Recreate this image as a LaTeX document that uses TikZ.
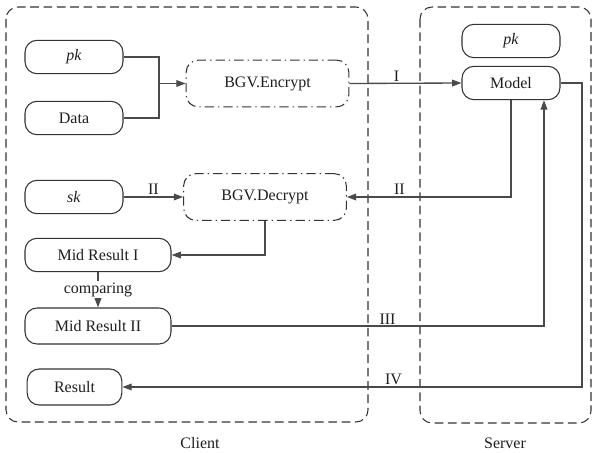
\documentclass[tikz,border=0pt]{standalone}
\usepackage{fontspec}
\setmainfont{Liberation Serif}
\newfontfamily\timesfont{Liberation Serif}
\usetikzlibrary{arrows.meta}
\definecolor{Wire}{HTML}{4A4A4A}
\definecolor{Edge}{HTML}{333333}
\definecolor{Ink}{HTML}{1E1E1E}

\begin{document}
\begin{tikzpicture}[x=0.75pt,y=-0.75pt,every node/.style={font=\timesfont\fontsize{12}{14}\selectfont,text=Ink},
  pill/.style={draw=Edge,line width=0.8pt,rounded corners=9pt,minimum height=25pt,minimum width=73.5pt,inner sep=0pt},
  cryptbox/.style={draw=Edge,line width=0.8pt,dash pattern=on 7pt off 3pt on 1pt off 3pt,rounded corners=9pt,minimum width=122pt,minimum height=35pt},
  zone/.style={draw=Edge,line width=0.8pt,dash pattern=on 6.5pt off 3.5pt,rounded corners=9pt},
  wire/.style={draw=Wire,line width=1pt,-{Triangle[length=7pt,width=5pt]}},
  lbl/.style={above,inner sep=1pt}]
\useasboundingbox (0,0) rectangle (593,453);
\draw[zone] (6,7) rectangle (368,422);
\draw[zone] (420,7) rectangle (591,423);
\node (client) at (200,443) {Client};
\node (server) at (505,443) {Server};
% client side
\node[pill] (pk) at (74,57) {\textit{pk}};
\node[pill] (data) at (74,118) {Data};
\node[pill] (sk) at (74,197) {\textit{sk}};
\node[pill,minimum width=109.5pt] (mr1) at (98,255) {Mid Result I};
\node[pill,minimum width=109.5pt,minimum height=27pt] (mr2) at (98,326) {Mid Result II};
\node[pill,minimum width=71pt,minimum height=27pt] (result) at (74.5,387) {Result};
\node[cryptbox] (enc) at (267.5,83.5) {BGV.Encrypt};
\node[cryptbox] (dec) at (265,197) {BGV.Decrypt};
% server side
\node[pill] (spk) at (511,41) {\textit{pk}};
\node[pill] (model) at (511,83) {Model};
\coordinate (join) at (159,83.5);
\coordinate (turn) at (582,387);
% connectors
\draw[Wire,line width=1pt] (pk.east) -| (join) |- (data.east);
\draw[wire] (join) -- (enc);
\draw[wire] (sk) -- node[lbl] {II} (dec);
\draw[wire] (enc.east) -- node[lbl,pos=0.42] {I} (model.west);
\draw[wire] (model.south) |- node[lbl,pos=0.84] {II} (dec.east);
\draw[wire] (dec.south) |- (mr1.east);
\draw[wire] (mr1) -- node[fill=white,inner sep=1pt] {comparing} (mr2);
\draw[wire] (mr2.east) -| node[lbl,pos=0.29] {III} ([xshift=24.75pt]model.south);
\draw[wire] (model.east) -| (turn) -- node[lbl,pos=0.41] {IV} (result.east);
\end{tikzpicture}
\end{document}
